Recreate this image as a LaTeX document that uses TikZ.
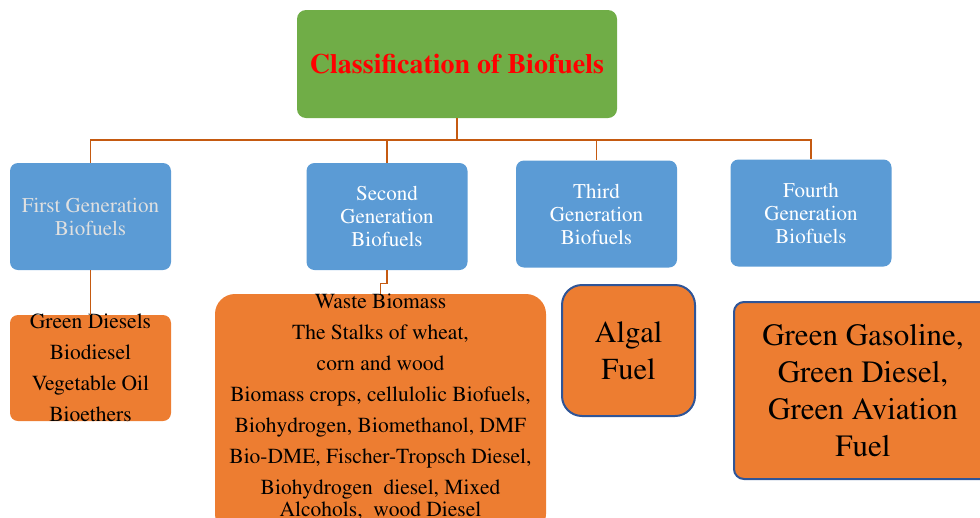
\documentclass[tikz,border=0pt]{standalone}
\usepackage[T1]{fontenc}
\usepackage{times}
\definecolor{Bio_Green}{HTML}{70AD47}
\definecolor{Bio_Blue}{HTML}{5B9BD5}
\definecolor{Bio_Orange}{HTML}{ED7D31}
\definecolor{Bio_Line}{HTML}{C55A11}
\definecolor{Bio_Border}{HTML}{2F5597}

\begin{document}
\begin{tikzpicture}[x=1pt, y=-1pt,
    genbox/.style={rectangle, rounded corners=8pt, fill=Bio_Blue, text=white, minimum width=161pt, minimum height=107pt, inner sep=0pt, align=center, font=\fontsize{21}{23}\selectfont},
    fuelbox/.style={rectangle, fill=Bio_Orange, inner sep=0pt},
    fueltext/.style={align=center, inner sep=0pt, text=black},
    conn/.style={draw=Bio_Line, line width=1.3pt}]

    % All positions in pixels of the 980 x 517 frame, y going down
    \useasboundingbox (0,0) rectangle (980,517);

    % === Root ===
    \node[rectangle, rounded corners=9pt, fill=Bio_Green, minimum width=320pt, minimum height=108pt, text=red, font=\fontsize{28}{30}\selectfont\bfseries] (root) at (457,64) {Classification of Biofuels};

    % === Generations ===
    \node[genbox, text=white!88!black] (first) at (90.5,216.5) {First Generation\\Biofuels};
    \node[genbox] (second) at (387,216.5) {Second\\Generation\\Biofuels};
    \node[genbox] (third) at (596.5,214) {Third\\Generation\\Biofuels};
    \node[genbox] (fourth) at (811,213) {Fourth\\Generation\\Biofuels};

    % === Fuels ===
    \node[fuelbox, rounded corners=8pt, minimum width=161pt, minimum height=106pt] (firstfuel) at (90.5,368) {};
    \node[fueltext, font=\fontsize{21.5}{31}\selectfont] (firsttext) at (firstfuel.center) {Green Diesels\\Biodiesel\\Vegetable Oil\\Bioethers};

    \node[fuelbox, rounded corners=20pt, minimum width=331pt, minimum height=240pt] (secondfuel) at (380.5,414) {};
    \node[fueltext, anchor=north, font=\fontsize{21.5}{31}\selectfont] (secondtext) at (380.5,294) {Waste Biomass\\The Stalks of wheat,\\corn and wood\\Biomass crops, cellulolic Biofuels,\\Biohydrogen, Biomethanol, DMF\\Bio-DME, Fischer-Tropsch Diesel,\\Biohydrogen\ \ diesel, Mixed\\[-9pt]Alcohols,\ \ wood Diesel};

    \node[fuelbox, draw=Bio_Border, line width=2pt, rounded corners=20pt, minimum width=133pt, minimum height=131pt, align=center, font=\fontsize{30.5}{37}\selectfont] (thirdfuel) at (628.5,350.5) {Algal\\Fuel};
    \node[fuelbox, draw=Bio_Border, line width=2pt, rounded corners=10pt, minimum width=258pt, minimum height=177pt, align=center, font=\fontsize{31}{37}\selectfont] (fourthfuel) at (863,390.5) {Green Gasoline,\\Green Diesel,\\Green Aviation\\Fuel};

    % === Connectors ===
    \coordinate (bus) at (457,140);
    \draw[conn] (root.south) -- (bus);
    \foreach \gen in {first, second, third, fourth}
        \draw[conn] (bus) -| (\gen.north);
    \draw[conn] (first.south) -- (firstfuel.north);
    \draw[conn] (second.south) -- ++(0,13) -| (secondfuel.north);

\end{tikzpicture}
\end{document}
